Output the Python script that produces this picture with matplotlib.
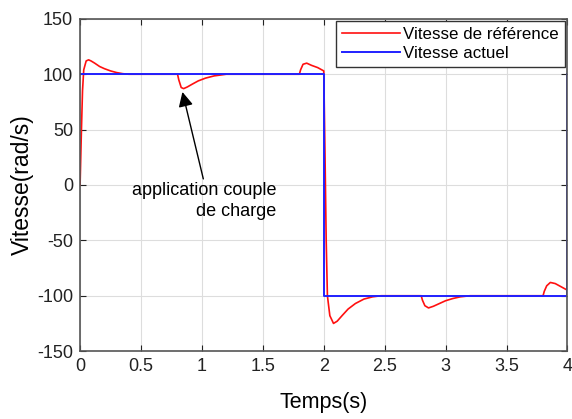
import matplotlib.pyplot as plt

plt.rcParams['font.family'] = ['Liberation Sans', 'DejaVu Sans']
plt.rcParams['axes.unicode_minus'] = False

t_red = [0, 0.01, 0.02, 0.03, 0.05, 0.07, 0.09, 0.12, 0.16, 0.2, 0.25, 0.3, 0.35, 0.4,
         0.8, 0.81, 0.83, 0.85, 0.88, 0.92, 0.97, 1.03, 1.1, 1.2,
         1.8, 1.81, 1.83, 1.86, 1.9, 1.95, 2.0,
         2.01, 2.02, 2.03, 2.05, 2.08, 2.11, 2.15, 2.2, 2.26, 2.33, 2.4, 2.47,
         2.8, 2.81, 2.83, 2.86, 2.9, 2.95, 3.0, 3.06, 3.12, 3.2,
         3.8, 3.81, 3.83, 3.86, 3.9, 3.95, 4.0]
v_red = [0, 45, 85, 104, 112, 113, 112, 110, 107, 105, 103, 101.5, 100.5, 100,
         100, 95, 88, 87, 88.5, 91, 94, 96.5, 98.5, 100,
         100, 104, 109, 110, 108, 106, 103,
         30, -50, -100, -118, -125, -123, -118, -112, -107, -103, -101, -100,
         -100, -104, -109, -111, -109.5, -107, -104.5, -102.5, -101, -100,
         -100, -96, -91, -88, -89, -92, -95]

# consigne (courbe bleue)
t_blue = [0, 2, 2, 4, 4]
v_blue = [100, 100, -100, -100, 100]

fig = plt.figure(figsize=(5.72, 4.19), dpi=100)
ax = fig.add_axes([0.14, 0.162, 0.852, 0.793])

ax.plot(t_red, v_red, color='#ff1010', lw=1.2, label='Vitesse de référence')
ax.plot(t_blue, v_blue, color='#2020ff', lw=1.4, label='Vitesse actuel')

ax.set_xlim(0, 4)
ax.set_ylim(-150, 150)
ax.set_xticks([0, 0.5, 1, 1.5, 2, 2.5, 3, 3.5, 4])
ax.set_xticklabels(['0', '0.5', '1', '1.5', '2', '2.5', '3', '3.5', '4'])
ax.set_yticks([-150, -100, -50, 0, 50, 100, 150])
ax.grid(True, color='#dddddd', lw=0.8)
ax.tick_params(direction='in', top=True, right=True, labelsize=13, colors='#222222',
               length=4, pad=5)
for s in ax.spines.values():
    s.set_color('#555555')
    s.set_linewidth(1.2)

ax.set_xlabel('Temps(s)', fontsize=15.5, labelpad=12)
ax.set_ylabel('Vitesse(rad/s)', fontsize=16.5, labelpad=2)

ax.annotate('application couple\nde charge', xy=(0.84, 84), xytext=(1.61, 3),
            ha='right', va='top', multialignment='right', fontsize=13,
            linespacing=1.35,
            arrowprops=dict(arrowstyle='-|>', color='black', lw=1.0,
                            mutation_scale=22, shrinkA=0, shrinkB=0,
                            relpos=(0.5, 1.0)))

leg = ax.legend(loc='upper right', fontsize=12.2, fancybox=False, framealpha=1,
                edgecolor='#333333', handlelength=3.4, borderaxespad=0.15,
                borderpad=0.35, labelspacing=0.2, handletextpad=0.2)
leg.get_frame().set_linewidth(1.0)

fig.savefig('out.png', dpi=100)
